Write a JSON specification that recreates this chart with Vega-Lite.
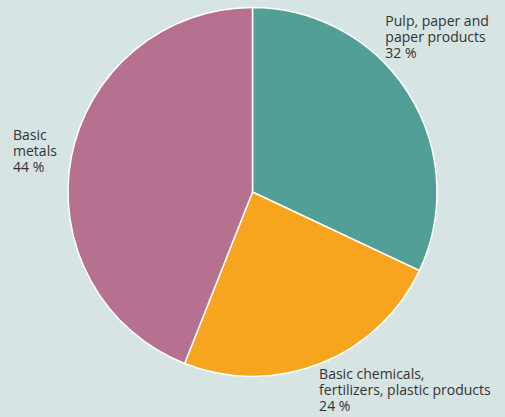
{
  "$schema": "https://vega.github.io/schema/vega-lite/v6.json",
  "width": 505,
  "height": 384,
  "autosize": {"type": "none"},
  "padding": {"left": 0, "right": 0, "top": 0, "bottom": 33},
  "background": "#d6e4e3",
  "config": {"view": {"stroke": null}},
  "data": {
    "values": [
      {"sector": "Pulp, paper and paper products", "share": 32, "rank": 1, "label": ["Pulp, paper and", "paper products", "32 %"]},
      {"sector": "Basic chemicals, fertilizers, plastic products", "share": 24, "rank": 2, "label": ["Basic chemicals,", "fertilizers, plastic products", "24 %"]},
      {"sector": "Basic metals", "share": 44, "rank": 3, "label": ["Basic", "metals", "44 %"]}
    ]
  },
  "encoding": {
    "theta": {"field": "share", "type": "quantitative", "stack": true},
    "order": {"field": "rank", "type": "quantitative"}
  },
  "layer": [
    {
      "mark": {"type": "arc", "outerRadius": 184.5, "stroke": "white", "strokeWidth": 1.5},
      "encoding": {
        "color": {
          "field": "sector", "type": "nominal", "legend": null,
          "scale": {
            "domain": ["Pulp, paper and paper products", "Basic chemicals, fertilizers, plastic products", "Basic metals"],
            "range": ["#529f97", "#f7a51f", "#b77190"]
          }
        }
      }
    },
    {
      "mark": {
        "type": "text", "radius": 200, "align": "left", "baseline": "top",
        "font": "Open Sans", "fontSize": 14, "lineHeight": 16, "color": "#333333",
        "dx": {"expr": "datum.rank == 1 ? -36 : datum.rank == 2 ? -7 : -43"},
        "dy": {"expr": "datum.rank == 1 ? -70 : datum.rank == 2 ? -10 : -26"}
      },
      "encoding": {"text": {"field": "label"}}
    }
  ]
}
